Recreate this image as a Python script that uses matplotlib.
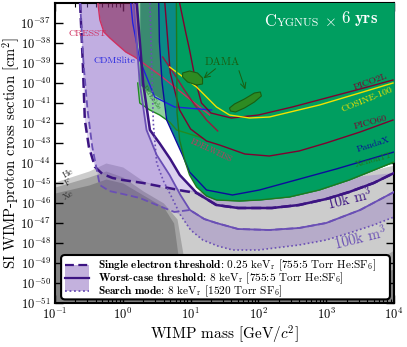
import numpy as np
import matplotlib.pyplot as plt
from matplotlib.patches import FancyBboxPatch, Rectangle
from matplotlib.lines import Line2D

plt.rcParams['font.family'] = 'serif'
plt.rcParams['font.serif'] = ['cmr10']
plt.rcParams['mathtext.fontset'] = 'cm'
plt.rcParams['axes.formatter.use_mathtext'] = True
plt.rcParams['axes.linewidth'] = 1.5

# ---- data (log10 mass [GeV], log10 cross section [cm^2]) ----
# neutrino floors
he_m = [-1.0, -0.5, -0.25, 0.0, 0.3, 0.6, 0.9, 1.5, 2.0, 3.0, 4.0]
he_s = [-44.95, -44.4, -44.0, -44.2, -44.9, -45.2, -45.3, -45.6, -45.6, -44.9, -44.1]
f_m = [-1.0, -0.5, -0.25, 0.0, 0.3, 0.6, 0.8, 0.9, 1.2, 2.0, 3.0, 3.55, 4.0]
f_s = [-45.2, -44.7, -44.4, -44.7, -45.4, -46.0, -46.8, -48.8, -49.6, -50.2, -49.8, -49.25, -48.35]
xe_m = [-1.0, -0.5, -0.25, 0.0, 0.3, 0.6, 0.75, 0.85, 1.2, 2.0, 3.0, 4.0]
xe_s = [-45.5, -45.1, -44.8, -45.0, -45.6, -46.2, -47.0, -49.5, -50.3, -50.6, -50.2, -49.3]

# Cygnus 10k m^3 / 100k m^3
s10_m = [0.206, 0.30, 0.40, 0.54, 0.70, 0.84, 1.09, 1.38, 1.7, 2.2, 2.6, 3.0, 3.34, 3.7, 4.0]
s10_s = [-36.0, -40.0, -42.35, -43.0, -43.8, -44.6, -45.5, -46.1, -46.25, -46.25, -46.1, -45.8, -45.45, -45.0, -44.5]
s100_m = [0.16, 0.25, 0.35, 0.5, 0.69, 0.85, 0.99, 1.2, 1.38, 1.7, 2.16, 2.6, 3.0, 3.5, 4.0]
s100_s = [-36.0, -40.0, -42.35, -43.6, -44.6, -45.6, -46.35, -46.8, -47.0, -47.3, -47.35, -47.25, -47.0, -46.35, -45.45]
d10_m = [-0.63, -0.59, -0.56, -0.50, -0.41, -0.3, -0.15, 0.0, 0.3, 0.6, 0.9, 1.09]
d10_s = [-36.0, -39.0, -41.85, -43.2, -44.2, -44.55, -44.75, -44.85, -45.0, -45.2, -45.4, -45.5]
d100_m = [-0.63, -0.58, -0.52, -0.45, -0.34, -0.2, 0.0, 0.25, 0.5, 0.76, 0.99]
d100_s = [-36.0, -39.0, -41.35, -43.2, -45.1, -45.4, -45.55, -45.75, -46.1, -46.45, -46.35]
sm_m = [0.40, 0.45, 0.50, 0.60, 0.72, 0.85, 1.0, 1.18, 1.4, 1.62, 2.0, 2.6, 3.0, 3.34, 3.7, 4.0]
sm_s = [-36.0, -42.0, -44.0, -44.9, -45.7, -46.6, -47.35, -47.85, -48.15, -48.35, -48.35, -48.1, -47.85, -47.5, -47.1, -46.7]

# experiments
other_m = [0.25, 0.25, 0.397, 0.544, 0.662, 0.735, 0.838, 0.912, 0.985, 1.088, 1.235, 1.382, 1.72, 2.015, 2.456, 2.897, 3.338, 3.632, 4.0]
other_s = [-36.0, -40.1, -40.45, -40.75, -41.0, -41.35, -42.85, -43.85, -44.6, -45.2, -45.65, -45.85, -45.9, -45.85, -45.7, -45.35, -44.85, -44.45, -43.95]
xenon_m = [0.79, 0.80, 0.838, 0.912, 0.985, 1.088, 1.235, 1.382, 1.72, 2.015, 2.456, 2.897, 3.338, 3.632, 4.0]
xenon_s = [-36.0, -41.5, -42.85, -43.85, -44.6, -45.2, -45.65, -45.85, -45.9, -45.85, -45.7, -45.35, -44.85, -44.45, -43.95]
panda_m = [0.53, 0.54, 0.58, 0.647, 0.88, 0.985, 1.235, 1.618, 2.015, 3.147, 4.0]
panda_s = [-36.0, -37.95, -40.0, -41.85, -43.6, -44.45, -45.35, -45.6, -45.35, -44.3, -43.45]
cdms_m = [0.118, 0.147, 0.25, 0.47, 0.765, 1.31]
cdms_s = [-36.0, -37.0, -38.85, -40.7, -41.2, -41.35]
cresst_m = [-0.368, -0.338, -0.279, -0.191, -0.074, 0.044, 0.176, 0.544, 0.912, 1.28]
cresst_s = [-36.0, -36.85, -37.45, -37.75, -38.1, -38.45, -38.7, -39.6, -40.6, -41.6]
edel_m = [0.588, 0.75, 0.9, 1.05, 1.235, 1.4]
edel_s = [-38.7, -39.5, -40.3, -41.05, -41.85, -42.4]
darkside_m = [0.22, 0.25, 0.397, 0.544, 0.691, 0.794, 0.985, 1.176]
darkside_s = [-40.0, -41.0, -41.35, -41.6, -41.95, -42.35, -42.55, -42.75]
pico2l_m = [0.838, 0.93, 0.985, 1.08, 1.16, 1.3, 1.6, 2.0, 2.5, 3.0, 3.5, 3.985]
pico2l_s = [-36.0, -37.5, -38.35, -40.0, -41.0, -41.5, -41.75, -41.6, -41.2, -40.75, -40.3, -39.85]
pico60_m = [0.62, 0.7, 0.838, 1.0, 1.235, 1.426, 1.8, 2.16, 2.6, 3.0, 3.5, 3.985]
pico60_s = [-36.0, -39.5, -41.35, -42.3, -42.9, -43.1, -43.55, -43.65, -43.4, -43.0, -42.45, -41.85]
cosine_m = [0.691, 1.088, 1.382, 1.574, 1.868, 2.162, 2.9, 3.985]
cosine_s = [-39.2, -40.2, -41.2, -41.6, -41.75, -41.7, -41.1, -40.0]
dama1_m = [0.882, 0.985, 1.103, 1.176, 1.176, 1.088, 0.956, 0.882]
dama1_s = [-39.5, -39.4, -39.5, -39.75, -40.05, -40.1, -39.95, -39.7]
dama2_m = [1.574, 1.647, 1.794, 1.941, 2.029, 2.044, 1.941, 1.794, 1.662, 1.588]
dama2_s = [-41.25, -41.05, -40.8, -40.5, -40.45, -40.65, -40.95, -41.25, -41.45, -41.4]

P = lambda a: 10.0 ** np.asarray(a, dtype=float)

dark = '#3c1482'
mid = '#6a4fb5'
lav = '#7e57c2'
green = '#009e60'

fig = plt.figure(figsize=(4.07, 3.47), dpi=100)
ax = fig.add_axes([55 / 407, 44 / 347, 339 / 407, 300 / 347])
ax.set_xscale('log')
ax.set_yscale('log')
ax.set_xlim(1e-1, 1e4)
ax.set_ylim(1e-51, 1e-36)

bot = 1e-52
top = 1e-30
# neutrino floors
for m, s in [(he_m, he_s), (f_m, f_s), (xe_m, xe_s)]:
    ax.fill_between(P(m), bot, P(s), color='k', alpha=0.2, lw=0, zorder=1)

# Cygnus fills: 10k between single electron and worst case,
# 100k between worst case and the lower of single electron / search mode
low100_m = d100_m[:-1] + sm_m[5:]
low100_s = d100_s[:-1] + sm_s[5:]
for lm, ls_, um, us in [(d10_m, d10_s, s10_m, s10_s), (low100_m, low100_s, s100_m, s100_s)]:
    xs = np.concatenate([lm, um[::-1], [um[0], lm[0]]])
    ys = np.concatenate([ls_, us[::-1], [-35, -35]])
    ax.fill(P(xs), P(ys), color=lav, alpha=0.28, lw=0, zorder=2)

# excluded regions
ax.fill_between(P(cresst_m), P(cresst_s), top, color='#7a1040', alpha=0.5, lw=0, zorder=3)
ax.fill_between(P(darkside_m), P(darkside_s), top, color='#8fd19e', lw=0, zorder=3)
ax.fill_between(P(other_m), P(other_s), top, color='#3a8a70', lw=0, zorder=4)
ax.fill_between(P(panda_m), P(panda_s), top, color='#0a8a86', lw=0, zorder=4.1)
ax.fill_between(P(xenon_m), P(xenon_s), top, color=green, lw=0, zorder=4.2)

ax.plot(P(cresst_m), P(cresst_s), color='#d03060', lw=1.0, zorder=5)
ax.plot(P(edel_m), P(edel_s), color='#9a1840', lw=1.0, zorder=5)
ax.plot(P(darkside_m), P(darkside_s), color='#228b22', lw=1.0, zorder=5)
ax.plot(P(cdms_m), P(cdms_s), color='#2020e0', lw=1.0, zorder=5)
ax.plot(P(pico60_m), P(pico60_s), color='#800030', lw=1.0, zorder=5)
ax.plot(P(pico2l_m), P(pico2l_s), color='#800030', lw=1.0, zorder=5)
ax.plot(P(cosine_m), P(cosine_s), color='#f2e200', lw=1.0, zorder=5)
ax.plot(P(panda_m), P(panda_s), color='#0c0c9c', lw=1.0, zorder=5)
ax.plot(P(xenon_m), P(xenon_s), color='#1e7a1e', lw=1.0, zorder=5)
for m, s in [(dama1_m, dama1_s), (dama2_m, dama2_s)]:
    ax.fill(P(m), P(s), facecolor='#2e8b22', edgecolor='#1a5e12', lw=0.8, zorder=6)

# Cygnus lines
ax.plot(P(d10_m + s10_m[7:]), P(d10_s + s10_s[7:]), color=dark, lw=1.8, ls=(0, (4, 2)), zorder=7)
ax.plot(P(d100_m + s100_m[7:]), P(d100_s + s100_s[7:]), color=mid, lw=1.3, ls=(0, (4, 2)), zorder=7)
ax.plot(P(s10_m), P(s10_s), color=dark, lw=1.8, zorder=7)
ax.plot(P(s100_m), P(s100_s), color=mid, lw=1.3, zorder=7)
ax.plot(P(sm_m), P(sm_s), color=mid, lw=1.2, ls=(0, (1, 1.5)), zorder=7)

# labels
lab = dict(fontsize=7, zorder=9)
ax.text(10**-0.52, 10**-37.55, 'CRESST', color='#d03060', ha='center', va='center', **lab)
ax.text(10**-0.12, 10**-38.9, 'CDMSlite', color='#2a2ae0', ha='center', va='center', **lab)
ax.text(10**0.42, 10**-40.7, 'DarkSide', color='#1e7a1e', ha='center', va='center', rotation=-55, fontsize=5, zorder=9)
ax.text(10**1.3, 10**-43.4, 'EDELWEISS', color='#d03060', ha='center', va='center', rotation=-25, fontsize=5.5, zorder=9)
ax.text(10**3.65, 10**-39.95, 'PICO2L', color='#800030', ha='center', va='center', rotation=20, **lab)
ax.text(10**3.6, 10**-40.85, 'COSINE-100', color='#f2e200', ha='center', va='center', rotation=22, **lab)
ax.text(10**3.65, 10**-41.95, 'PICO60', color='#800030', ha='center', va='center', rotation=15, **lab)
ax.text(10**3.7, 10**-43.1, 'PandaX', color='#0c0c9c', ha='center', va='center', rotation=18, **lab)
ax.text(10**3.7, 10**-43.85, 'Xenon1T', color='#1e7a1e', ha='center', va='center', rotation=15, **lab)
ax.text(10**3.35, 10**-45.75, r'10k m$^3$', color=dark, ha='center', va='center', rotation=14, fontsize=10.5, zorder=9)
ax.text(10**3.5, 10**-47.7, r'100k m$^3$', color=mid, ha='center', va='center', rotation=14, fontsize=10.5, zorder=9)
for t, yy in [('He', -44.5), ('F', -45.0), ('Xe', -45.6)]:
    ax.text(10**-0.8, 10**yy, t, color='#333333', ha='center', va='center', rotation=30, fontsize=6.5, zorder=9)

ax.text(10**1.47, 10**-38.95, 'DAMA', color='#1a5e12', ha='center', va='center', fontsize=8, zorder=9)
ax.annotate('', xy=(10**1.16, 10**-39.85), xytext=(10**1.4, 10**-39.2),
            arrowprops=dict(arrowstyle='->', color='#1a5e12', lw=0.7), zorder=9)
ax.annotate('', xy=(10**1.82, 10**-40.45), xytext=(10**1.7, 10**-39.25),
            arrowprops=dict(arrowstyle='->', color='#1a5e12', lw=0.7), zorder=9)

# title
t1 = ax.text(0.618, 0.925, 'C', transform=ax.transAxes, color='w', fontsize=12, zorder=9)
t2 = ax.annotate('YGNUS', xy=(1, 0), xycoords=t1, color='w', fontsize=8.5, va='bottom', zorder=9)
t3 = ax.annotate(r'$\times$', xy=(1, 0), xycoords=t2, xytext=(4, 0), textcoords='offset points',
                 color='w', fontsize=11, va='bottom', zorder=9)
ax.annotate(r'$\mathbf{6\ yrs}$', xy=(1, 0), xycoords=t3, xytext=(4, 0), textcoords='offset points',
            color='w', fontsize=12, va='bottom', zorder=9)

# legend (drawn by hand)
box = FancyBboxPatch((0.018, 0.012), 0.97, 0.148, boxstyle='round,pad=0,rounding_size=0.012',
                     transform=ax.transAxes, facecolor='w', edgecolor='k', lw=1.5, zorder=10)
ax.add_patch(box)
ax.add_patch(Rectangle((0.03, 0.04), 0.07, 0.087, transform=ax.transAxes, facecolor='#c3b1dd',
                       lw=0, zorder=11))
rows = [0.127, 0.083, 0.04]
styles = [(dark, 1.6, (0, (4, 2))), (dark, 1.6, '-'), (mid, 1.3, (0, (1, 1.5)))]
texts = [r'$\mathbf{Single\ electron\ threshold}$: 0.25 keV$_\mathrm{r}$ [755:5 Torr He:SF$_6$]',
         r'$\mathbf{Worst}$-$\mathbf{case\ threshold}$: 8 keV$_\mathrm{r}$ [755:5 Torr He:SF$_6$]',
         r'$\mathbf{Search\ mode}$: 8 keV$_\mathrm{r}$ [1520 Torr SF$_6$]']
for yy, (c, lw, ls), tx in zip(rows, styles, texts):
    ax.add_line(Line2D([0.03, 0.1], [yy, yy], color=c, lw=lw, ls=ls, transform=ax.transAxes, zorder=12))
    ax.text(0.127, yy, tx, transform=ax.transAxes, fontsize=8.1, va='center', zorder=12)

ax.set_yticks(P(np.arange(-51, -36)))
ax.yaxis.set_minor_locator(plt.NullLocator())
ax.xaxis.set_minor_locator(plt.LogLocator(base=10, subs=np.arange(2, 10), numticks=20))
ax.tick_params(which='both', direction='in', top=True, right=True, labelsize=9)
ax.tick_params(which='major', length=6, width=1, pad=3)
ax.tick_params(which='minor', length=3, width=0.8)
ax.set_xlabel(r'WIMP mass [GeV$/c^2$]', fontsize=11, labelpad=1)
ax.set_ylabel(r'SI WIMP-proton cross section [cm$^2$]', fontsize=10.5)
ax.yaxis.set_label_coords(-0.098, 0.5)

fig.savefig('out.png', dpi=100)
